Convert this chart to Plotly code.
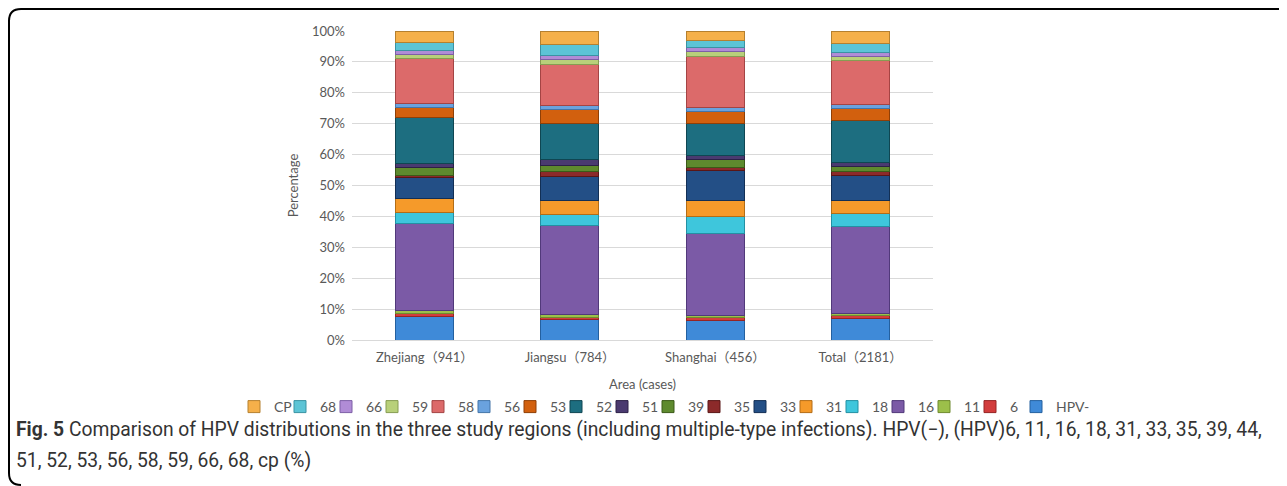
import plotly.graph_objects as go

# ---------------- data ----------------
areas = ["Zhejiang（941）", "Jiangsu（784）", "Shanghai（456）", "Total（2181）"]
types = ["HPV-", "6", "11", "16", "18", "31", "33", "35", "39",
         "51", "52", "53", "56", "58", "59", "66", "68", "CP"]

zhejiang = [7.7, 0.8, 0.9, 28.2, 3.8, 4.3, 6.8, 0.6, 2.6, 1.4, 14.9, 3.2, 1.3, 14.5, 1.3, 1.4, 2.7, 3.6]
jiangsu  = [6.5, 0.9, 1.0, 28.7, 3.5, 4.6, 7.8, 1.4, 2.1, 1.9, 11.6, 4.5, 1.4, 13.2, 1.6, 1.4, 3.6, 4.3]
shanghai = [6.4, 0.9, 0.5, 26.6, 5.6, 5.2, 9.7, 0.8, 2.8, 1.3, 10.2, 4.1, 1.3, 16.4, 1.6, 1.4, 2.2, 3.0]
total    = [6.9, 1.0, 0.8, 28.1, 4.1, 4.3, 8.1, 1.1, 1.9, 1.3, 13.3, 4.0, 1.3, 14.1, 1.5, 1.4, 2.9, 3.9]

colors = ["#3f8ad8", "#d23c3c", "#9cbf4a", "#7b5aa6", "#3ec6dc", "#f59a2a",
          "#234f86", "#8c2a2a", "#5e8a2e", "#4a3a70", "#1d6e80", "#d2600e",
          "#6aa2de", "#dc6a6a", "#b8d07a", "#b08cd6", "#5cc4d6", "#f5b04a"]
edges = ["#24609f", "#962424", "#6f8a2e", "#51397a", "#2390a3", "#b36d16",
         "#122f55", "#5a1616", "#3b5a18", "#2c2147", "#0f4652", "#8f3f06",
         "#4475a8", "#a44444", "#869c52", "#7d5fa6", "#3a93a3", "#b5802f"]

caption1 = ("<b>Fig. 5</b> Comparison of HPV distributions in the three study regions "
            "(including multiple-type infections). HPV(−), (HPV)6, 11, 16, 18, 31, 33, 35, 39, 44,")
caption2 = "51, 52, 53, 56, 58, 59, 66, 68, cp (%)"

# ---------------- layout geometry (page pixels, body has an 8px margin) ----------------
OFF = 8
W, H = 1287 - OFF, 486 - OFF
ML, MR, MT, MB = 352 - OFF, 354, 31 - OFF, 146
PW, PH = W - ML - MR, H - MT - MB


def px(x):  # page pixel -> paper x
    return (x - OFF - ML) / PW


def py(y):  # page pixel -> paper y
    return (H - MB - (y - OFF)) / PH


FONT = "Lato, 'Noto Sans CJK SC', sans-serif"
CAPFONT = "Roboto, 'Open Sans', sans-serif"

fig = go.Figure()
# blank legend spacer (shown last in the reversed legend) so the "HPV-" label is not clipped
fig.add_trace(go.Bar(x=areas, y=[0] * len(areas), name=" ", hoverinfo="skip",
                     marker=dict(color="rgba(0,0,0,0)", line=dict(width=0))))
series = list(zip(zhejiang, jiangsu, shanghai, total))
for i, t in enumerate(types):
    fig.add_trace(go.Bar(
        x=areas, y=list(series[i]), name=t,
        marker=dict(color=colors[i], line=dict(color=edges[i], width=1)),
    ))

frame = (f"M {px(1295)} {py(9)} L {px(21)} {py(9)} Q {px(9)} {py(9)} {px(9)} {py(21)} "
         f"L {px(9)} {py(473)} Q {px(9)} {py(485)} {px(21)} {py(485)}")

fig.update_layout(
    width=W, height=H,
    margin=dict(l=ML, r=MR, t=MT, b=MB, autoexpand=False),
    barmode="stack", bargap=0.6,
    plot_bgcolor="white", paper_bgcolor="white",
    font=dict(family=FONT, color="#595959", size=13),
    xaxis=dict(
        showgrid=False, showline=True, linecolor="#d9d9d9", linewidth=1,
        ticks="", tickfont=dict(size=13, color="#595959"), tickangle=0,
        ticklabelstandoff=5,
        title=dict(text="Area (cases)", font=dict(size=13, color="#595959"), standoff=16),
    ),
    yaxis=dict(
        range=[0, 100], dtick=10, ticksuffix="%",
        showgrid=True, gridcolor="#d9d9d9", gridwidth=1, zeroline=False,
        ticks="", tickfont=dict(size=13, color="#595959"),
        ticklabelstandoff=6,
        title=dict(text="Percentage", font=dict(size=13, color="#595959"), standoff=10),
    ),
    legend=dict(
        orientation="h", traceorder="reversed",
        x=px(234), xanchor="left",
        y=py(407), yanchor="middle",
        font=dict(size=14, color="#595959"),
        itemwidth=30, entrywidth=1, itemclick=False,
    ),
    shapes=[dict(type="path", xref="paper", yref="paper", path=frame,
                 line=dict(color="black", width=2))],
    annotations=[
        dict(text=caption1, xref="paper", yref="paper", x=px(14), y=py(430),
             xanchor="left", yanchor="middle", showarrow=False,
             font=dict(family=CAPFONT, size=19.3, color="#333333")),
        dict(text=caption2, xref="paper", yref="paper", x=px(14), y=py(460),
             xanchor="left", yanchor="middle", showarrow=False,
             font=dict(family=CAPFONT, size=19.3, color="#333333")),
    ],
)

fig.write_html("out.html")
